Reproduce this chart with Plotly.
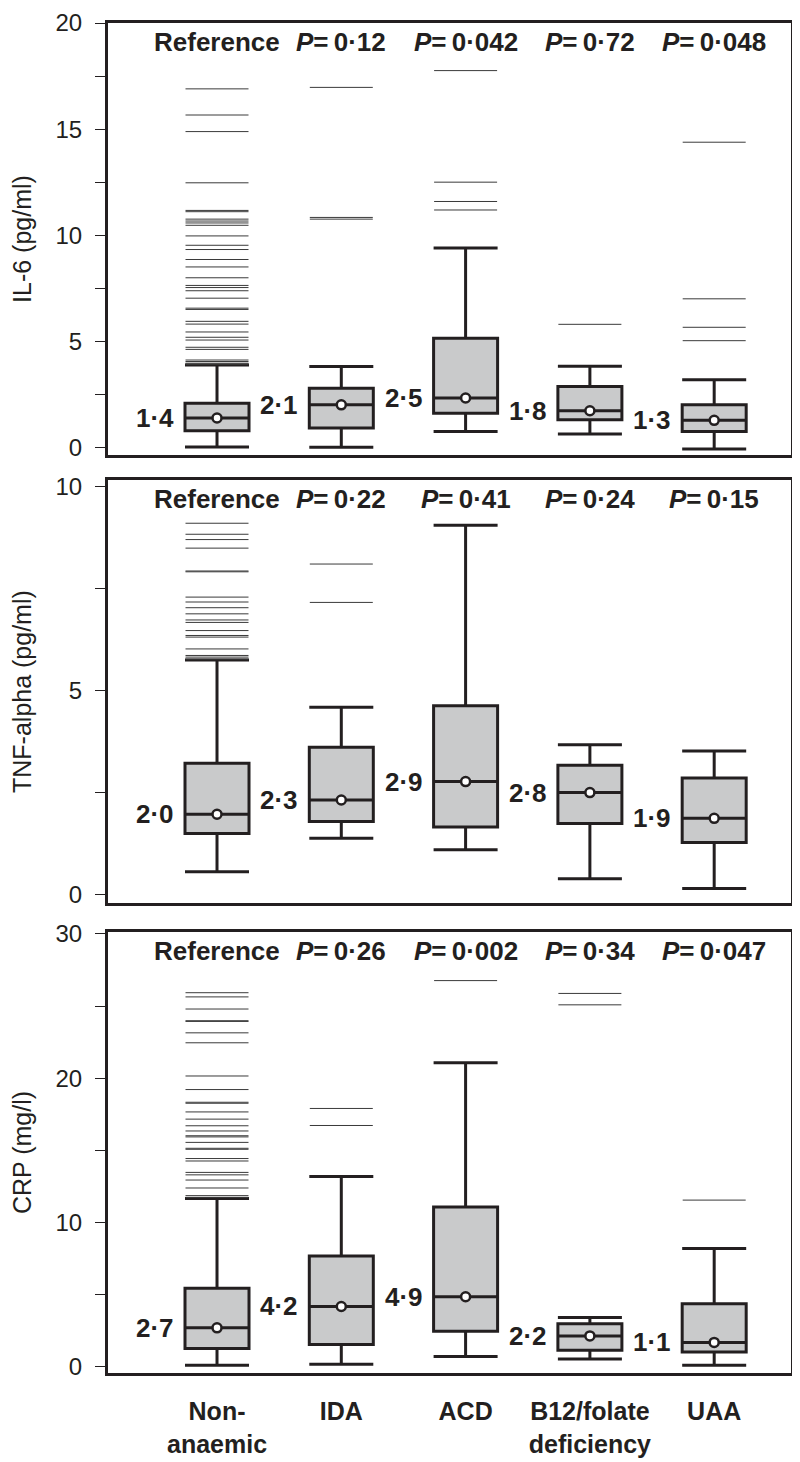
import plotly.graph_objects as go
from plotly.subplots import make_subplots

# ---------------- data ----------------
categories = ["Non-anaemic", "IDA", "ACD", "B12/folate deficiency", "UAA"]
tick_labels = ["Non-<br>anaemic", "IDA", "ACD", "B12/folate<br>deficiency", "UAA"]

# IL-6 (pg/ml)
il6_lower = [0.05, 0.03, 0.78, 0.66, -0.05]
il6_q1 = [0.81, 0.94, 1.64, 1.33, 0.78]
il6_median = [1.41, 2.03, 2.35, 1.75, 1.30]
il6_q3 = [2.11, 2.81, 5.16, 2.89, 2.03]
il6_upper = [3.91, 3.83, 9.41, 3.85, 3.21]
il6_outliers = [
    [16.9, 15.67, 14.89, 12.48, 11.18, 11.12, 10.77, 10.68, 10.59, 10.48, 9.98, 9.54,
     9.34, 8.87, 8.52, 8.01, 7.65, 7.55, 7.40, 7.05, 6.58, 6.52, 5.96, 5.83, 5.46,
     5.21, 5.08, 4.74, 4.64, 4.14, 4.07, 3.99, 3.94],
    [16.97, 10.85, 10.77],
    [17.76, 12.51, 11.60, 11.20],
    [5.82],
    [14.39, 7.02, 5.68, 5.05],
]
il6_value_labels = ["1\u00b74", "2\u00b71", "2\u00b75", "1\u00b78", "1\u00b73"]
il6_headers = ["Reference", "0\u00b712", "0\u00b7042", "0\u00b772", "0\u00b7048"]

# TNF-alpha (pg/ml)
tnf_lower = [0.55, 1.37, 1.09, 0.38, 0.14]
tnf_q1 = [1.49, 1.78, 1.65, 1.73, 1.27]
tnf_median = [1.96, 2.31, 2.76, 2.49, 1.86]
tnf_q3 = [3.21, 3.60, 4.62, 3.16, 2.85]
tnf_upper = [5.74, 4.58, 9.04, 3.66, 3.51]
tnf_outliers = [
    [9.09, 8.82, 8.69, 8.48, 7.92, 7.90, 7.28, 7.16, 7.02, 6.87, 6.72, 6.66, 6.46,
     6.34, 6.30, 6.01, 5.85, 5.81, 5.76],
    [8.09, 7.15],
    [],
    [],
    [],
]
tnf_value_labels = ["2\u00b70", "2\u00b73", "2\u00b79", "2\u00b78", "1\u00b79"]
tnf_headers = ["Reference", "0\u00b722", "0\u00b741", "0\u00b724", "0\u00b715"]

# CRP (mg/l)
crp_lower = [0.12, 0.19, 0.72, 0.55, 0.12]
crp_q1 = [1.27, 1.56, 2.47, 1.15, 1.03]
crp_median = [2.71, 4.19, 4.86, 2.15, 1.70]
crp_q3 = [5.46, 7.68, 11.08, 2.99, 4.38]
crp_upper = [11.68, 13.19, 21.07, 3.42, 8.21]
crp_outliers = [
    [25.93, 25.64, 24.80, 23.99, 23.94, 23.15, 22.46, 20.16, 19.22, 18.34, 18.27,
     17.67, 17.17, 16.71, 16.35, 16.02, 15.94, 15.56, 15.15, 15.08, 14.44, 14.27,
     13.48, 13.31, 12.95, 12.40, 11.87, 11.75],
    [17.91, 16.73],
    [26.77],
    [25.88, 25.09],
    [11.56],
]
crp_value_labels = ["2\u00b77", "4\u00b72", "4\u00b79", "2\u00b72", "1\u00b71"]
crp_headers = ["Reference", "0\u00b726", "0\u00b7002", "0\u00b734", "0\u00b7047"]

# ---------------- style ----------------
DARK = "#231f20"
FILL = "#c9cacb"
OUT = "#3a3a3a"
FONT = "Liberation Sans, Arial, Helvetica, sans-serif"

panels = [
    dict(title="IL-6 (pg/ml)", lower=il6_lower, q1=il6_q1, median=il6_median, q3=il6_q3,
         upper=il6_upper, outliers=il6_outliers, labels=il6_value_labels, headers=il6_headers,
         yrange=[-0.33, 20], dtick=5, minor=2.5, domain=[0.680, 1.0]),
    dict(title="TNF-alpha (pg/ml)", lower=tnf_lower, q1=tnf_q1, median=tnf_median, q3=tnf_q3,
         upper=tnf_upper, outliers=tnf_outliers, labels=tnf_value_labels, headers=tnf_headers,
         yrange=[-0.22, 10.15], dtick=5, minor=2.5, domain=[0.348, 0.6615]),
    dict(title="CRP (mg/l)", lower=crp_lower, q1=crp_q1, median=crp_median, q3=crp_q3,
         upper=crp_upper, outliers=crp_outliers, labels=crp_value_labels, headers=crp_headers,
         yrange=[-0.42, 30.14], dtick=10, minor=5, domain=[0.0, 0.3267]),
]

fig = make_subplots(rows=3, cols=1)

for i, p in enumerate(panels, start=1):
    xr = "x" if i == 1 else f"x{i}"
    yr = "y" if i == 1 else f"y{i}"
    ox, oy = [], []
    for cat, vals in zip(categories, p["outliers"]):
        ox += [cat] * len(vals)
        oy += vals
    fig.add_trace(go.Scatter(
        x=ox, y=oy, mode="markers", hoverinfo="y", showlegend=False,
        marker=dict(symbol="line-ew", size=45, color=OUT, line=dict(width=1, color=OUT)),
    ), row=i, col=1)
    fig.add_trace(go.Box(
        x=categories, q1=p["q1"], median=p["median"], q3=p["q3"],
        lowerfence=p["lower"], upperfence=p["upper"],
        fillcolor=FILL, line=dict(color=DARK, width=3), width=0.515,
        whiskerwidth=1, boxpoints=False, showlegend=False,
    ), row=i, col=1)
    fig.add_trace(go.Scatter(
        x=categories, y=p["median"], mode="markers", showlegend=False,
        marker=dict(symbol="circle", size=9, color="white", line=dict(color=DARK, width=2.5)),
    ), row=i, col=1)
    for cat, med, lab, head in zip(categories, p["median"], p["labels"], p["headers"]):
        fig.add_annotation(x=cat, y=med, xref=xr, yref=yr, text=f"<b>{lab}</b>",
                           showarrow=False, xanchor="right", yanchor="middle", xshift=-41,
                           font=dict(family=FONT, size=26, color=DARK))
        htxt = "<b>Reference</b>" if head == "Reference" else f"<b><i>P</i>=\u2009{head}</b>"
        fig.add_annotation(x=cat, y=1, xref=xr, yref=f"{yr} domain", text=htxt,
                           showarrow=False, xanchor="center", yanchor="middle", yshift=-19,
                           font=dict(family=FONT, size=26, color=DARK))

    fig.update_yaxes(
        row=i, col=1, domain=p["domain"], range=p["yrange"], dtick=p["dtick"], tick0=0,
        showgrid=False, zeroline=False, showline=True, mirror=True, linewidth=3, linecolor=DARK,
        ticks="outside", ticklen=10, tickwidth=1, tickcolor=DARK, ticklabelstandoff=8,
        tickfont=dict(family=FONT, size=24, color=DARK),
        minor=dict(dtick=p["minor"], tick0=0, ticks="outside", ticklen=10, tickwidth=1,
                   tickcolor=DARK, showgrid=False),
        title=dict(text=p["title"], font=dict(family=FONT, size=25, color=DARK), standoff=17),
    )
    fig.update_xaxes(
        row=i, col=1, type="category", categoryorder="array", categoryarray=categories,
        range=[-0.877, 4.618], showgrid=False, zeroline=False, showline=True, mirror=True,
        linewidth=3, linecolor=DARK, ticks="",
        showticklabels=(i == 3), tickvals=categories, ticktext=tick_labels,
        ticklabelstandoff=14,
        tickfont=dict(family=FONT, size=25, color=DARK, weight="bold"),
    )

# the page body adds an 8px offset, so the figure is 8px smaller and margins shifted
fig.update_layout(
    width=792, height=1454,
    margin=dict(l=100, r=9, t=15, b=89, autoexpand=False),
    paper_bgcolor="white", plot_bgcolor="white",
    showlegend=False,
    font=dict(family=FONT, color=DARK),
)

fig.write_html("out.html")
